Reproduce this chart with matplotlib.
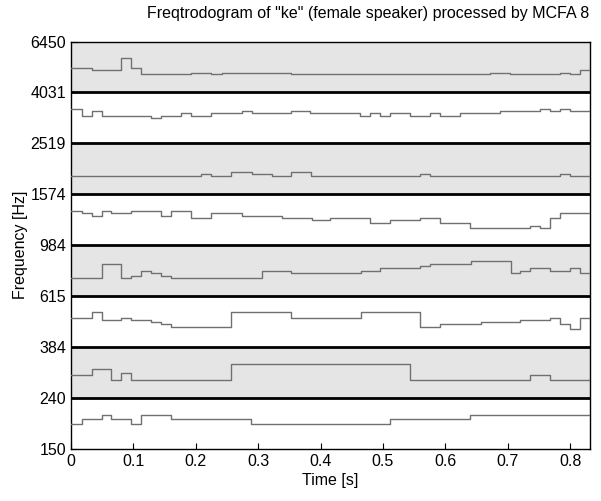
import numpy as np
import matplotlib.pyplot as plt

plt.rcParams['font.family'] = ['Liberation Sans', 'DejaVu Sans']

# band edges of the filter bank [Hz]
band_edges = [150, 240, 384, 615, 984, 1574, 2519, 4031, 6450]
t_end = 0.831

# one frequency track per band: change times [s] and values [Hz]
t1 = [0, 0.017, 0.049, 0.065, 0.097, 0.113, 0.161, 0.288, 0.511, 0.639]
f1 = [188, 198, 206, 198, 188, 206, 198, 188, 198, 206]

t2 = [0, 0.033, 0.065, 0.081, 0.097, 0.256, 0.543, 0.736, 0.768]
f2 = [296, 315, 283, 302, 283, 330, 283, 296, 283]

t3 = [0, 0.033, 0.049, 0.081, 0.097, 0.129, 0.145, 0.161, 0.256, 0.353,
      0.464, 0.560, 0.592, 0.657, 0.720, 0.768, 0.784, 0.800, 0.816]
f3 = [504, 529, 494, 504, 494, 485, 475, 463, 529, 504,
      529, 463, 475, 485, 494, 504, 475, 453, 504]

t4 = [0, 0.049, 0.081, 0.097, 0.113, 0.129, 0.145, 0.161, 0.306, 0.353,
      0.464, 0.496, 0.560, 0.576, 0.641, 0.705, 0.720, 0.736, 0.768, 0.800, 0.816]
f4 = [727, 828, 727, 743, 778, 759, 743, 727, 778, 759,
      778, 798, 815, 830, 853, 759, 778, 798, 778, 798, 759]

t5 = [0, 0.017, 0.033, 0.049, 0.065, 0.097, 0.145, 0.161, 0.193, 0.225,
      0.274, 0.338, 0.386, 0.415, 0.479, 0.511, 0.559, 0.591, 0.639, 0.736,
      0.752, 0.768, 0.784]
f5 = [1351, 1327, 1294, 1351, 1327, 1351, 1294, 1351, 1266, 1327,
      1294, 1266, 1239, 1266, 1213, 1239, 1266, 1213, 1155, 1180,
      1155, 1266, 1327]

t6 = [0, 0.209, 0.225, 0.257, 0.290, 0.322, 0.353, 0.385, 0.560, 0.576,
      0.784, 0.800]
f6 = [1863, 1899, 1863, 1939, 1899, 1863, 1939, 1863, 1899, 1863,
      1899, 1863]

t7 = [0, 0.017, 0.033, 0.049, 0.129, 0.145, 0.177, 0.193, 0.225, 0.274,
      0.290, 0.353, 0.383, 0.463, 0.479, 0.495, 0.511, 0.543, 0.575, 0.591,
      0.623, 0.688, 0.752, 0.768, 0.784, 0.800]
f7 = [3468, 3241, 3395, 3241, 3173, 3241, 3322, 3241, 3322, 3395,
      3322, 3395, 3322, 3241, 3322, 3241, 3322, 3241, 3322, 3241,
      3322, 3395, 3468, 3395, 3468, 3395]

t8 = [0, 0.033, 0.080, 0.096, 0.113, 0.193, 0.225, 0.242, 0.353, 0.671,
      0.704, 0.784, 0.799, 0.815]
f8 = [5075, 4980, 5549, 5075, 4773, 4842, 4773, 4842, 4773, 4842,
      4773, 4842, 4773, 4980]

tracks = [(t1, f1), (t2, f2), (t3, f3), (t4, f4),
          (t5, f5), (t6, f6), (t7, f7), (t8, f8)]

fig = plt.figure(figsize=(6.01, 5.01), dpi=100)
ax = fig.add_axes([0.118, 0.104, 0.863, 0.813])
ax.set_yscale('log')

# alternating shaded bands
for i in range(len(band_edges) - 1):
    if i % 2 == 1:
        ax.axhspan(band_edges[i], band_edges[i + 1], color='#e5e5e5', lw=0, zorder=0)
for e in band_edges[1:-1]:
    ax.axhline(e, color='black', lw=2, zorder=2)

for t, f in tracks:
    ax.step(t + [t_end], f + [f[-1]], where='post', color='#707070', lw=1, zorder=3)

ax.set_xlim(0, t_end)
ax.set_ylim(band_edges[0], band_edges[-1])
ax.set_yticks(band_edges)
ax.set_yticklabels([str(e) for e in band_edges])
ax.minorticks_off()
ax.set_xticks(np.arange(0, 0.81, 0.1))
ax.set_xticklabels(['0'] + ['%.1f' % v for v in np.arange(0.1, 0.81, 0.1)])
ax.tick_params(direction='in', labelsize=11.5, length=4)
for s in ax.spines.values():
    s.set_linewidth(1)

ax.set_xlabel('Time [s]', fontsize=11.5, labelpad=3)
ax.set_ylabel('Frequency [Hz]', fontsize=11.5, labelpad=2)
ax.set_title('Freqtrodogram of "ke" (female speaker) processed by MCFA 8',
             fontsize=11.5, pad=17, x=0.573)

fig.savefig('out.png', dpi=100)
